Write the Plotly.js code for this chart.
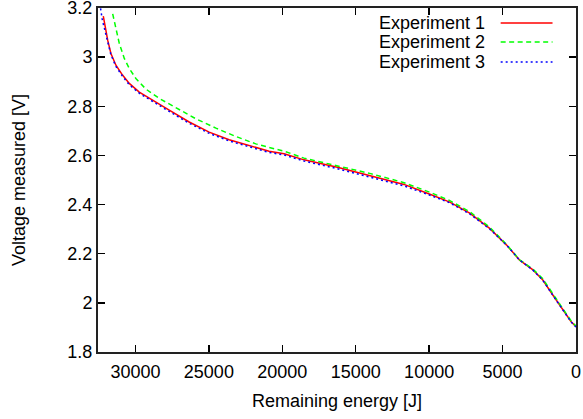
<!DOCTYPE html>
<html>
<head>
<meta charset="utf-8">
<script src="https://cdn.plot.ly/plotly-3.0.1.min.js"></script>
<style>
html,body{margin:0;padding:0;background:#fff;}
#chart{width:583px;height:419px;}
</style>
</head>
<body>
<div id="chart"></div>
<script>
// Experiment 1 (red, solid)
const energy1 = [32190, 31890, 31670, 31330, 30880, 30420, 29740, 28830, 27700, 26340, 24980, 23620, 22260, 20900, 19880, 18520, 16250, 13980, 11710, 9900, 8590, 7240, 5880, 4740, 3840, 2930, 2260, 1580, 900, 330, 0];
const voltage1 = [3.167, 3.069, 3.015, 2.967, 2.927, 2.893, 2.858, 2.824, 2.784, 2.736, 2.695, 2.664, 2.641, 2.617, 2.607, 2.582, 2.552, 2.518, 2.482, 2.441, 2.410, 2.365, 2.303, 2.236, 2.174, 2.134, 2.093, 2.032, 1.971, 1.923, 1.903];
// Experiment 2 (green, dashed)
const energy2 = [31550, 31330, 31100, 30760, 30420, 29970, 29290, 28380, 27240, 25880, 24520, 23160, 21800, 20440, 19760, 18520, 16250, 13980, 11710, 9900, 8590, 7240, 5880, 4740, 3840, 2930, 2260, 1580, 900, 330, 0];
const voltage2 = [3.176, 3.110, 3.056, 2.995, 2.954, 2.913, 2.870, 2.832, 2.793, 2.749, 2.711, 2.677, 2.647, 2.625, 2.615, 2.589, 2.559, 2.526, 2.489, 2.449, 2.416, 2.371, 2.308, 2.238, 2.175, 2.137, 2.098, 2.037, 1.975, 1.926, 1.905];
// Experiment 3 (blue, dotted)
const energy3 = [32500, 32380, 32250, 32100, 31890, 31670, 31330, 30880, 30420, 29740, 28830, 27700, 26340, 24980, 23620, 22260, 20900, 19880, 18520, 16250, 13980, 11710, 9900, 8590, 7240, 5880, 4740, 3840, 2930, 2260, 1580, 900, 330, 0];
const voltage3 = [3.30, 3.20, 3.15, 3.11, 3.063, 3.010, 2.962, 2.922, 2.888, 2.853, 2.819, 2.779, 2.731, 2.690, 2.659, 2.636, 2.612, 2.602, 2.577, 2.546, 2.512, 2.476, 2.437, 2.407, 2.362, 2.301, 2.236, 2.174, 2.133, 2.092, 2.031, 1.970, 1.922, 1.902];

const seriesNames = ["Experiment 1", "Experiment 2", "Experiment 3"];
const xTickVals = [30000, 25000, 20000, 15000, 10000, 5000, 0];
const xTickText = ["30000", "25000", "20000", "15000", "10000", "5000", "0"];
const yTickVals = [1.8, 2.0, 2.2, 2.4, 2.6, 2.8, 3.0, 3.2];
const yTickText = ["1.8", "2", "2.2", "2.4", "2.6", "2.8", "3", "3.2"];

const colors = ["#ff0000", "#00ff00", "#0000ff"];
const dashes = ["solid", "5px,3.5px", "2px,3px"];

const traces = [
  {x: energy1, y: voltage1, name: seriesNames[0], type: "scatter", mode: "lines",
   line: {color: colors[0], width: 1.5, dash: dashes[0]}},
  {x: energy2, y: voltage2, name: seriesNames[1], type: "scatter", mode: "lines",
   line: {color: colors[1], width: 1.5, dash: dashes[1]}},
  {x: energy3, y: voltage3, name: seriesNames[2], type: "scatter", mode: "lines",
   line: {color: colors[2], width: 1.5, dash: dashes[2]}}
];

const fontFam = "Liberation Sans, Arial, Helvetica, sans-serif";
const legX = 0.8132, legX0 = 0.8424, legX1 = 0.9509;
const legY = [0.9564, 0.9012, 0.8430];

const annotations = seriesNames.map((n, i) => ({
  xref: "paper", yref: "paper", x: legX, y: legY[i], text: n, showarrow: false,
  xanchor: "right", yanchor: "middle", font: {family: fontFam, size: 18, color: "#000"}
}));
const shapes = seriesNames.map((n, i) => ({
  type: "line", xref: "paper", yref: "paper", x0: legX0, x1: legX1, y0: legY[i], y1: legY[i],
  line: {color: colors[i], width: 1.5, dash: dashes[i]}
}));

const layout = {
  width: 583, height: 419,
  margin: {l: 97.5, r: 6.5, t: 8, b: 67, pad: 0},
  paper_bgcolor: "#fff", plot_bgcolor: "#fff",
  showlegend: false,
  font: {family: fontFam, size: 18, color: "#000"},
  xaxis: {
    range: [32550, 0], tickvals: xTickVals, ticktext: xTickText,
    ticks: "inside", ticklen: 7, tickwidth: 1.5, tickcolor: "#000",
    showline: true, linewidth: 2, linecolor: "#222", mirror: "ticks",
    showgrid: false, zeroline: false, ticklabelstandoff: 2,
    tickfont: {family: fontFam, size: 18, color: "#000"},
    title: {text: "Remaining energy [J]", font: {family: fontFam, size: 18, color: "#000"}, standoff: 14}
  },
  yaxis: {
    range: [1.8, 3.2], tickvals: yTickVals, ticktext: yTickText,
    ticks: "inside", ticklen: 7, tickwidth: 1.5, tickcolor: "#000",
    showline: true, linewidth: 2, linecolor: "#222", mirror: "ticks",
    showgrid: false, zeroline: false, ticklabeloverflow: "allow",
    tickfont: {family: fontFam, size: 18, color: "#000"},
    title: {text: "Voltage measured [V]", font: {family: fontFam, size: 18, color: "#000"}, standoff: 37}
  },
  annotations: annotations,
  shapes: shapes
};

Plotly.newPlot("chart", traces, layout, {staticPlot: true, displayModeBar: false});
</script>
</body>
</html>
